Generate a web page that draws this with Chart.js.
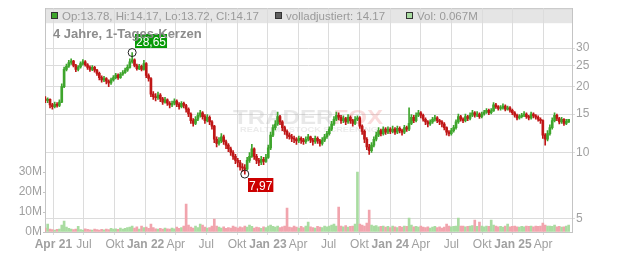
<!DOCTYPE html>
<html>
<head>
<meta charset="utf-8">
<script src="https://cdn.jsdelivr.net/npm/chart.js@4.4.1/dist/chart.umd.min.js"></script>
<style>
  html, body { margin: 0; padding: 0; background: #fff; }
  #chart { display: block; }
</style>
</head>
<body>
<canvas id="chart" width="632" height="253"></canvas>
<script>
// weekly candles, first one on 2021-03-08
const startDate = '2021-03-08';

const opens = [
  17.6, 17.3, 17.5, 16.5, 16.2, 16.6, 16.4, 17.0, 20.0, 24.0,
  24.8, 25.8, 26.2, 25.0, 24.0, 24.6, 25.5, 26.0, 25.2, 24.5,
  24.0, 24.5, 23.8, 23.0, 22.0, 21.5, 21.8, 21.2, 20.8, 21.5,
  22.0, 22.6, 22.0, 22.8, 23.2, 23.8, 24.5, 26.0, 26.5, 25.0,
  24.2, 24.8, 24.0, 25.5, 22.5, 21.8, 18.5, 18.0, 17.8, 18.3,
  17.6, 17.0, 17.4, 16.8, 16.5, 16.8, 17.2, 16.6, 16.2, 16.8,
  16.4, 15.8, 15.0, 14.0, 13.6, 14.2, 14.8, 15.2, 14.6, 14.0,
  14.5, 13.8, 13.2, 11.5, 11.0, 11.3, 11.8, 11.2, 10.8, 10.4,
  10.0, 9.6, 9.2, 9.0, 8.6, 8.5, 8.4, 9.2, 9.6, 10.4,
  9.6, 9.2, 9.0, 9.3, 9.1, 9.5, 10.5, 12.0, 13.0, 13.5,
  14.6, 13.8, 13.0, 12.5, 12.0, 11.8, 11.6, 11.5, 11.3, 11.6,
  11.4, 11.2, 11.5, 11.8, 11.4, 11.2, 11.6, 11.3, 11.0, 11.4,
  11.8, 12.2, 12.8, 13.5, 14.2, 14.8, 14.5, 14.0, 14.3, 13.8,
  14.5, 14.0, 13.6, 14.2, 14.4, 13.2, 12.5, 11.5, 10.6, 10.2,
  10.8, 11.5, 12.0, 12.6, 12.2, 12.8, 12.4, 12.8, 12.5, 12.8,
  12.4, 12.9, 12.6, 12.4, 13.0, 12.8, 13.6, 14.5, 14.0, 14.8,
  15.2, 14.8, 14.2, 13.8, 13.5, 13.8, 14.2, 14.4, 14.0, 13.8,
  13.5, 13.0, 12.4, 12.2, 12.6, 13.0, 13.8, 14.6, 14.2, 14.0,
  14.6, 14.3, 14.8, 15.2, 14.8, 15.0, 14.6, 15.0, 15.3, 15.6,
  15.2, 15.5, 16.5, 16.2, 15.9, 16.0, 16.3, 15.8, 16.0, 15.6,
  15.2, 14.8, 14.4, 14.6, 14.8, 15.0, 14.6, 14.4, 15.0, 14.7,
  14.5, 14.2, 14.0, 12.0, 11.5, 12.2, 13.0, 14.0, 14.8, 14.3,
  13.8, 14.2, 13.6, 13.78
];
const highs = [
  18.0, 17.8, 17.6, 16.8, 17.0, 16.9, 17.4, 20.6, 24.6, 25.4,
  26.4, 26.8, 26.4, 25.3, 25.0, 26.0, 26.6, 26.3, 25.5, 24.9,
  25.0, 24.8, 24.0, 23.3, 22.4, 22.3, 22.0, 21.5, 21.9, 22.5,
  23.0, 22.9, 23.2, 23.7, 24.3, 25.2, 26.8, 28.65, 26.8, 25.4,
  25.3, 25.1, 26.4, 25.8, 22.9, 22.0, 19.0, 18.6, 18.9, 18.6,
  17.9, 17.9, 17.6, 17.1, 17.2, 17.6, 17.4, 16.9, 17.1, 17.0,
  16.6, 16.0, 15.2, 14.3, 14.6, 15.2, 15.6, 15.4, 14.9, 14.9,
  14.7, 14.0, 13.3, 11.8, 11.7, 12.2, 12.0, 11.4, 11.0, 10.6,
  10.2, 9.8, 9.4, 9.2, 8.9, 8.8, 9.5, 10.0, 10.9, 10.5,
  9.8, 9.4, 9.6, 9.5, 9.8, 10.8, 12.4, 13.4, 14.0, 15.3,
  14.8, 14.0, 13.2, 12.7, 12.3, 12.1, 11.9, 11.7, 11.9, 11.8,
  11.6, 11.8, 12.1, 11.9, 11.6, 11.9, 11.8, 11.5, 11.7, 12.1,
  12.5, 13.1, 13.9, 14.6, 15.3, 15.2, 14.8, 14.7, 14.5, 14.9,
  14.7, 14.2, 14.6, 14.7, 14.6, 13.4, 12.7, 11.7, 10.9, 11.1,
  11.8, 12.4, 13.0, 12.8, 13.1, 13.0, 13.1, 13.0, 13.2, 13.0,
  13.2, 13.1, 12.8, 13.3, 13.2, 16.0, 14.9, 14.8, 15.2, 15.6,
  15.4, 15.0, 14.4, 14.0, 14.1, 14.5, 14.8, 14.6, 14.2, 14.0,
  13.7, 13.1, 12.6, 12.9, 13.3, 14.1, 15.0, 14.8, 14.4, 15.0,
  14.8, 15.2, 15.6, 15.4, 15.4, 15.2, 15.3, 15.6, 15.9, 15.8,
  15.9, 16.9, 16.8, 16.4, 16.4, 16.7, 16.5, 16.3, 16.2, 15.8,
  15.4, 15.0, 14.9, 15.1, 15.4, 15.2, 14.8, 15.3, 15.2, 14.9,
  14.7, 14.4, 14.1, 12.2, 12.6, 13.4, 14.4, 15.2, 15.0, 14.5,
  14.5, 14.3, 14.2, 14.17
];
const lows = [
  16.9, 16.9, 16.0, 15.8, 16.0, 16.1, 16.2, 16.9, 19.8, 23.6,
  24.5, 25.3, 24.6, 23.4, 23.6, 24.3, 25.1, 24.8, 24.0, 23.5,
  23.7, 23.3, 22.5, 21.5, 21.0, 21.1, 20.6, 20.0, 20.5, 21.2,
  21.7, 21.6, 21.8, 22.5, 23.0, 23.5, 24.3, 25.6, 24.6, 23.8,
  23.9, 23.6, 23.8, 22.0, 21.2, 18.0, 17.5, 17.2, 17.5, 17.1,
  16.6, 16.8, 16.4, 16.0, 16.2, 16.5, 16.2, 15.8, 16.0, 16.0,
  15.3, 14.6, 13.6, 13.2, 13.4, 14.0, 14.5, 14.2, 13.6, 13.8,
  13.4, 12.8, 11.1, 10.6, 10.8, 11.1, 10.9, 10.4, 10.1, 9.7,
  9.3, 8.9, 8.6, 8.3, 8.2, 7.97, 8.3, 9.0, 9.5, 9.3,
  8.9, 8.7, 8.8, 8.8, 9.0, 9.4, 10.3, 11.8, 12.7, 13.3,
  13.4, 12.6, 12.1, 11.6, 11.5, 11.2, 11.1, 10.9, 11.1, 11.0,
  10.9, 11.0, 11.3, 11.1, 10.8, 11.0, 11.0, 10.7, 10.8, 11.2,
  11.6, 12.0, 12.6, 13.3, 14.0, 14.1, 13.6, 13.7, 13.4, 13.6,
  13.6, 13.2, 13.4, 14.0, 12.9, 12.1, 11.1, 10.3, 9.8, 10.0,
  10.6, 11.3, 11.8, 11.9, 12.0, 12.1, 12.2, 12.2, 12.3, 12.1,
  12.2, 12.3, 12.0, 12.2, 12.5, 12.6, 13.4, 13.7, 13.8, 14.6,
  14.4, 13.9, 13.4, 13.1, 13.3, 13.6, 13.9, 13.7, 13.4, 13.1,
  12.7, 12.0, 11.9, 12.0, 12.4, 12.8, 13.6, 13.9, 13.7, 13.8,
  14.0, 14.1, 14.6, 14.5, 14.6, 14.3, 14.4, 14.8, 15.1, 14.9,
  15.0, 15.4, 15.9, 15.6, 15.6, 15.8, 15.5, 15.6, 15.3, 14.9,
  14.5, 14.1, 14.2, 14.4, 14.6, 14.3, 14.1, 14.2, 14.4, 14.2,
  13.9, 13.6, 11.6, 10.8, 11.3, 12.0, 12.8, 13.8, 14.0, 13.5,
  13.6, 13.3, 13.4, 13.72
];
const closes = [
  17.3, 17.5, 16.5, 16.2, 16.6, 16.4, 17.0, 20.0, 24.0, 24.8,
  25.8, 26.2, 25.0, 24.0, 24.6, 25.5, 26.0, 25.2, 24.5, 24.0,
  24.5, 23.8, 23.0, 22.0, 21.5, 21.8, 21.2, 20.8, 21.5, 22.0,
  22.6, 22.0, 22.8, 23.2, 23.8, 24.5, 26.0, 26.5, 25.0, 24.2,
  24.8, 24.0, 25.5, 22.5, 21.8, 18.5, 18.0, 17.8, 18.3, 17.6,
  17.0, 17.4, 16.8, 16.5, 16.8, 17.2, 16.6, 16.2, 16.8, 16.4,
  15.8, 15.0, 14.0, 13.6, 14.2, 14.8, 15.2, 14.6, 14.0, 14.5,
  13.8, 13.2, 11.5, 11.0, 11.3, 11.8, 11.2, 10.8, 10.4, 10.0,
  9.6, 9.2, 9.0, 8.6, 8.5, 8.4, 9.2, 9.6, 10.4, 9.6,
  9.2, 9.0, 9.3, 9.1, 9.5, 10.5, 12.0, 13.0, 13.5, 14.6,
  13.8, 13.0, 12.5, 12.0, 11.8, 11.6, 11.5, 11.3, 11.6, 11.4,
  11.2, 11.5, 11.8, 11.4, 11.2, 11.6, 11.3, 11.0, 11.4, 11.8,
  12.2, 12.8, 13.5, 14.2, 14.8, 14.5, 14.0, 14.3, 13.8, 14.5,
  14.0, 13.6, 14.2, 14.4, 13.2, 12.5, 11.5, 10.6, 10.2, 10.8,
  11.5, 12.0, 12.6, 12.2, 12.8, 12.4, 12.8, 12.5, 12.8, 12.4,
  12.9, 12.6, 12.4, 13.0, 12.8, 13.6, 14.5, 14.0, 14.8, 15.2,
  14.8, 14.2, 13.8, 13.5, 13.8, 14.2, 14.4, 14.0, 13.8, 13.5,
  13.0, 12.4, 12.2, 12.6, 13.0, 13.8, 14.6, 14.2, 14.0, 14.6,
  14.3, 14.8, 15.2, 14.8, 15.0, 14.6, 15.0, 15.3, 15.6, 15.2,
  15.5, 16.5, 16.2, 15.9, 16.0, 16.3, 15.8, 16.0, 15.6, 15.2,
  14.8, 14.4, 14.6, 14.8, 15.0, 14.6, 14.4, 15.0, 14.7, 14.5,
  14.2, 14.0, 12.0, 11.5, 12.2, 13.0, 14.0, 14.8, 14.3, 13.8,
  14.2, 13.6, 13.9, 14.17
];
// volume in millions
const volumes = [
  2.0, 4.0, 1.5, 1.2, 1.0, 1.3, 1.5, 3.5, 5.5, 2.5,
  1.8, 1.5, 1.2, 1.4, 2.8, 1.2, 1.0, 1.6, 1.3, 1.1,
  1.0, 1.4, 1.2, 1.0, 1.3, 1.1, 1.5, 1.2, 1.8, 1.4,
  1.6, 1.3, 2.0, 1.5, 1.8, 2.2, 2.5, 3.0, 2.0, 2.6,
  1.5, 3.0, 2.2, 2.5, 1.8, 4.0, 2.2, 1.6, 1.4, 1.8,
  1.5, 2.0, 1.6, 1.4, 2.0, 1.6, 2.4, 1.8, 2.2, 3.0,
  14.0, 3.5, 2.5, 2.0, 3.0, 2.2, 4.0, 3.5, 2.5, 2.0,
  2.2, 3.0, 6.5, 3.0, 2.4, 2.0, 2.6, 1.8, 2.2, 2.0,
  3.0, 2.4, 2.0, 2.6, 2.2, 3.0, 2.5, 3.5, 2.8, 2.0,
  2.4, 2.2, 1.8, 2.6, 2.2, 3.0, 3.5, 2.8, 2.4, 3.0,
  2.2, 2.6, 3.0, 12.0, 2.5, 2.2, 3.0, 2.4, 2.0, 2.8,
  2.2, 3.0, 5.0, 2.6, 2.2, 2.0, 2.8, 2.4, 2.2, 3.0,
  2.6, 3.0, 3.5, 4.0, 3.0, 12.5, 3.0, 2.6, 3.2, 2.4,
  2.8, 3.0, 4.0, 30.0, 4.0, 3.5, 3.0, 4.5, 11.0, 3.5,
  3.0, 3.2, 2.6, 2.8, 3.0, 2.4, 2.8, 2.2, 3.0, 2.6,
  2.2, 2.8, 2.4, 3.0, 2.8, 7.0, 3.5, 2.6, 2.8, 2.4,
  3.0, 2.4, 2.2, 2.6, 2.0, 2.4, 2.8, 2.2, 2.6, 2.0,
  2.4, 4.0, 3.0, 2.6, 2.8, 3.0, 7.0, 3.0, 3.0, 2.6,
  2.8, 3.0, 3.2, 6.0, 2.8, 5.0, 3.0, 2.6, 3.0, 2.8,
  6.0, 3.5, 3.0, 2.6, 2.8, 2.4, 3.0, 4.0, 2.6, 2.8,
  3.0, 2.6, 2.4, 2.8, 2.6, 3.0, 2.8, 3.0, 2.6, 3.0,
  2.8, 3.0, 4.5, 3.5, 3.0, 3.0, 2.8, 3.5, 2.6, 2.8,
  2.4, 2.6, 3.0, 3.5
];

const tickDates = ['2021-04-01', '2021-07-01', '2021-10-01', '2022-01-01', '2022-04-01', '2022-07-01',
  '2022-10-01', '2023-01-01', '2023-04-01', '2023-07-01', '2023-10-01', '2024-01-01', '2024-04-01',
  '2024-07-01', '2024-10-01', '2025-01-01', '2025-04-01'];
const tickLabels = ['Apr 21', 'Jul', 'Okt', 'Jan 22', 'Apr', 'Jul', 'Okt', 'Jan 23', 'Apr', 'Jul', 'Okt',
  'Jan 24', 'Apr', 'Jul', 'Okt', 'Jan 25', 'Apr'];
const priceTicks = [5, 10, 15, 20, 25, 30];
const volumeTicks = [0, 10, 20, 30];

const title = '4 Jahre, 1-Tages-Kerzen';
const legendItems = [
  { text: 'Op:13.78, Hi:14.17, Lo:13.72, Cl:14.17', color: '#3ea52c', x: 51 },
  { text: 'volladjustiert: 14.17', color: '#5f5f5f', x: 275 },
  { text: 'Vol: 0.067M', color: '#a8dba0', x: 406 }
];

const FONT = '"Liberation Sans", Arial, sans-serif';
const GREEN = '#3ea52c';
const RED = '#bf1616';
const VOL_GREEN = '#a9dca1';
const VOL_RED = '#f1a4ad';
const GRID = '#dcdcdc';
const AXIS = '#c4c4c4';
const TEXT = '#a0a0a0';

const dayOf = s => Math.round((Date.parse(s) - Date.parse(startDate)) / 864e5);
const candleDays = closes.map((c, i) => i * 7);
const up = closes.map((c, i) => c >= opens[i]);
const tickDays = tickDates.map(dayOf);
const labelByDay = {};
tickDays.forEach((d, i) => { labelByDay[d] = tickLabels[i]; });

const decor = {
  id: 'decor',
  beforeDraw(chart) {
    const { ctx, chartArea: a } = chart;
    ctx.save();
    ctx.fillStyle = '#e5e5e5';
    ctx.fillRect(a.left, a.top, a.right - a.left, 15);
    ctx.strokeStyle = AXIS;
    ctx.lineWidth = 1;
    ctx.beginPath();
    ctx.moveTo(a.left, a.top + 0.5);
    ctx.lineTo(a.right, a.top + 0.5);
    ctx.stroke();
    ctx.restore();
  },
  beforeDatasetsDraw(chart) {
    // faint TraderFox watermark
    const ctx = chart.ctx;
    ctx.save();
    ctx.font = 'bold 21px ' + FONT;
    const w1 = ctx.measureText('TRADER').width;
    const w = ctx.measureText('TRADERFOX').width;
    ctx.translate(233, 124);
    ctx.scale(150 / w, 1);
    ctx.fillStyle = 'rgba(180,180,180,0.3)';
    ctx.fillText('TRADER', 0, 0);
    ctx.fillStyle = 'rgba(235,110,110,0.25)';
    ctx.fillText('FOX', w1, 0);
    ctx.restore();
    ctx.save();
    ctx.font = 'bold 7px ' + FONT;
    const sw = ctx.measureText('REALTIME STOCK SCREENING').width;
    ctx.translate(240, 132);
    ctx.scale(138 / sw, 1);
    ctx.fillStyle = 'rgba(190,190,190,0.3)';
    ctx.fillText('REALTIME STOCK SCREENING', 0, 0);
    ctx.restore();
  },
  afterDraw(chart) {
    const { ctx, scales } = chart;
    const hiIdx = highs.indexOf(Math.max(...highs));
    const loIdx = lows.indexOf(Math.min(...lows));
    const marker = (i, v, bg, above) => {
      const x = scales.x.getPixelForValue(candleDays[i]);
      const y = scales.y.getPixelForValue(v);
      ctx.beginPath();
      ctx.arc(x, y, 4, 0, Math.PI * 2);
      ctx.strokeStyle = '#222';
      ctx.lineWidth = 1;
      ctx.stroke();
      const text = v.toFixed(2).replace('.', ',');
      ctx.font = '12px ' + FONT;
      const w = ctx.measureText(text).width + 2;
      const bx = Math.round(x + 3);
      const by = Math.round(above ? y - 19 : y + 4);
      ctx.fillStyle = bg;
      ctx.fillRect(bx, by, w, 14);
      ctx.fillStyle = '#fff';
      ctx.textBaseline = 'alphabetic';
      ctx.fillText(text, bx + 1, by + 11.5);
    };
    ctx.save();
    marker(hiIdx, highs[hiIdx], '#079a07', true);
    marker(loIdx, lows[loIdx], '#cc0000', false);

    ctx.font = 'bold 13px ' + FONT;
    ctx.fillStyle = '#8c8c8c';
    ctx.fillText(title, 53, 38);

    ctx.font = '11.5px ' + FONT;
    legendItems.forEach(item => {
      ctx.fillStyle = item.color;
      ctx.fillRect(item.x, 12, 6, 6);
      ctx.strokeStyle = '#333';
      ctx.strokeRect(item.x + 0.5, 12.5, 6, 6);
      ctx.fillStyle = '#9a9a9a';
      ctx.fillText(item.text, item.x + 11, 19.5);
    });
    ctx.restore();
  }
};

new Chart(document.getElementById('chart'), {
  type: 'bar',
  data: {
    datasets: [
      {
        label: 'body',
        data: candleDays.map((d, i) => ({ x: d, y: [opens[i], closes[i]] })),
        backgroundColor: up.map(u => u ? GREEN : RED),
        barThickness: 2,
        minBarLength: 1,
        grouped: false,
        yAxisID: 'y',
        order: 1
      },
      {
        label: 'wick',
        data: candleDays.map((d, i) => ({ x: d, y: [lows[i], highs[i]] })),
        backgroundColor: up.map(u => u ? GREEN : RED),
        barThickness: 1,
        grouped: false,
        yAxisID: 'y',
        order: 2
      },
      {
        label: 'volume',
        data: candleDays.map((d, i) => ({ x: d, y: volumes[i] * 1e6 })),
        backgroundColor: up.map(u => u ? VOL_GREEN : VOL_RED),
        barThickness: 2,
        grouped: false,
        yAxisID: 'yv',
        order: 3
      }
    ]
  },
  options: {
    responsive: false,
    animation: false,
    devicePixelRatio: 1,
    events: [],
    layout: { padding: { top: 8, left: 0, right: 0, bottom: 0 } },
    plugins: { legend: { display: false }, tooltip: { enabled: false } },
    scales: {
      x: {
        type: 'linear',
        offset: false,
        min: -1,
        max: 1571,
        bounds: 'data',
        afterBuildTicks: s => { s.ticks = tickDays.map(v => ({ value: v })); },
        afterFit: s => { s.height = 21; },
        grid: { color: GRID, tickLength: 3, offset: false },
        border: { color: AXIS },
        ticks: {
          autoSkip: false,
          maxRotation: 0,
          padding: 2,
          color: TEXT,
          font: ctx => ({ family: FONT, size: 12, weight: /\d/.test(labelByDay[ctx.tick && ctx.tick.value] || '') ? 'bold' : 'normal' }),
          callback: v => labelByDay[v]
        }
      },
      y: {
        type: 'logarithmic',
        position: 'right',
        min: 4.33,
        max: 45.7,
        bounds: 'data',
        afterBuildTicks: s => { s.ticks = priceTicks.map(v => ({ value: v })); },
        afterFit: s => { s.width = 60; },
        grid: { color: GRID, tickLength: 3 },
        border: { color: AXIS },
        ticks: { color: TEXT, padding: 1, font: { family: FONT, size: 12 }, callback: v => String(v) }
      },
      yv: {
        type: 'linear',
        position: 'left',
        min: 0,
        max: 112e6,
        bounds: 'data',
        afterBuildTicks: s => { s.ticks = volumeTicks.map(v => ({ value: v * 1e6 })); },
        afterFit: s => { s.width = 45; },
        grid: { drawOnChartArea: false, color: AXIS, tickLength: 2 },
        border: { color: AXIS },
        ticks: { color: TEXT, padding: 1, font: { family: FONT, size: 12 }, callback: v => (v / 1e6) + 'M' }
      }
    }
  },
  plugins: [decor]
});
</script>
</body>
</html>
